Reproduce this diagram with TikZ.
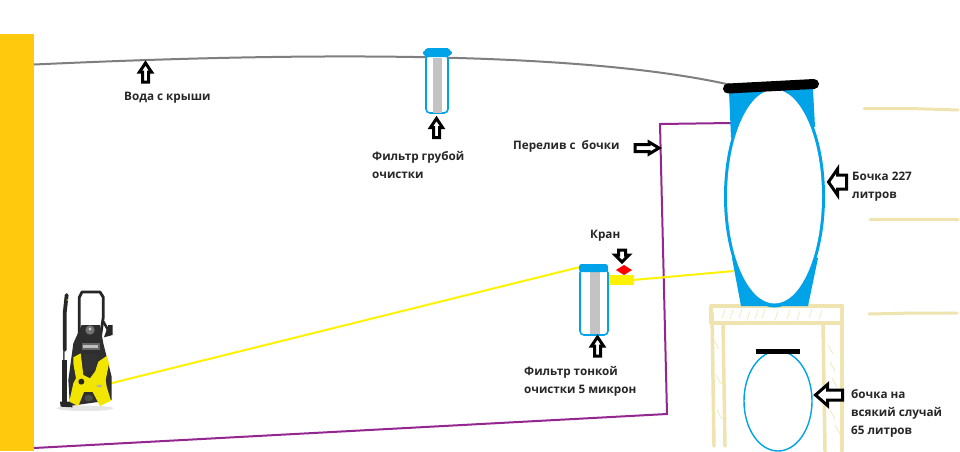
\documentclass[tikz,border=0pt]{standalone}
\usepackage{fontspec}
\setmainfont{Open Sans}
\usetikzlibrary{shapes.geometric}
\definecolor{wallc}{HTML}{FFC90E}
\definecolor{bluec}{HTML}{00A2E8}
\definecolor{woodc}{HTML}{EFE4B0}
\definecolor{purplec}{HTML}{93278F}
\definecolor{yelc}{HTML}{FFF200}
\definecolor{greyc}{HTML}{C3C3C3}
\definecolor{pipec}{HTML}{7F7F7F}
\tikzset{
  lbl/.style={font=\bfseries\fontsize{11.7}{18}\selectfont, text=black!85, align=left, anchor=north west, inner sep=0pt},
  outarrow/.style={draw=black, line width=3pt, fill=white, line join=miter},
  wood/.style={draw=woodc, line width=3.5pt, line cap=round},
  hatch/.style={draw=woodc, line width=.6pt},
  filterbody/.style={rectangle, draw=bluec, line width=1.6pt, rounded corners=4pt, fill=white, inner sep=0pt},
  filtercore/.style={rectangle, fill=greyc, inner sep=0pt},
  filtercap/.style={fill=bluec, rectangle, rounded corners=2.5pt, inner sep=0pt},
  pipe/.style={line width=2pt},
}
\newcommand{\arrowup}[2]{\draw[outarrow] (#1,#2) -- ++(6,9) -- ++(-3,0) -- ++(0,10) -- ++(-6,0) -- ++(0,-10) -- ++(-3,0) -- cycle;}
\newcommand{\arrowdown}[2]{\draw[outarrow] (#1,#2) -- ++(7,-7) -- ++(-3.5,0) -- ++(0,-5) -- ++(-7,0) -- ++(0,5) -- ++(-3.5,0) -- cycle;}
% tip x, tip y, head length, head half width, tail half width, tail length
\newcommand{\arrowleft}[6]{\draw[outarrow] (#1,#2) -- ++(#3,-#4) -- ++(0,#4-#5) -- ++(#6,0) -- ++(0,2*#5) -- ++(-#6,0) -- ++(0,#4-#5) -- cycle;}
\begin{document}
\begin{tikzpicture}[x=1pt,y=-1pt]
\useasboundingbox (0,0) rectangle (960,451);
\fill[white] (0,0) rectangle (960,451);
\fill[wallc] (0,34) rectangle (34,451);

% named anchors
\coordinate (wallTop) at (34,64.5);
\coordinate (lidLeft) at (731,85);
\coordinate (wallBot) at (34,448);
\coordinate (bendA) at (667,414);
\coordinate (bendB) at (660,124);
\coordinate (barrelOver) at (731,123);
\coordinate (pumpOut) at (100,386);
\coordinate (fineIn) at (580,267);
\coordinate (valveOut) at (633,280);
\coordinate (barrelOut) at (734,271);

% pipes
\draw[pipec,pipe] (wallTop) .. controls (200,57) and (550,44) .. (lidLeft);
\draw[purplec,pipe] (wallBot) -- (bendA) -- (bendB) -- (barrelOver);
\draw[yelc,pipe] (pumpOut) -- (fineIn);
\draw[yelc,pipe] (valveOut) -- (barrelOut);

% wooden stand
\draw[wood] (711,306) -- (842,306);
\draw[wood] (712,323) -- (842,323);
\draw[wood] (711,306) -- (711,323);
\draw[wood] (842,306) -- (842,451);
\draw[wood] (712,313) -- (714,446);
\draw[wood] (723,323) -- (725,446);
\draw[wood] (823,323) -- (825,451);
\foreach \xa/\ya in {725/309,733/310,742/309,750/311,758/310,765/309,778/311,790/310,800/311,812/309,822/310}
  \draw[hatch] (\xa,\ya) -- ++(-3,9);
\foreach \xa/\ya in {714/340,716/375,717/410,828/345,830/362,832/378,835/425,830/410}
  \draw[hatch] (\xa,\ya) -- ++(5,9);
\draw[woodc,line width=3pt,line cap=round] (864,108.5) -- (910,108.5) -- (958,110);
\draw[woodc,line width=3pt,line cap=round] (870,219) -- (958,219);
\draw[woodc,line width=3pt,line cap=round] (869,314) -- (915,313) -- (957,313);

% big barrel
\fill[bluec] (774.5,196.5) ellipse (50.5 and 111);
\fill[bluec] (729,91) -- (813,89) -- (815,127) -- (790,127) -- (760,138) -- (731,138) -- cycle;
\fill[bluec] (732,258) -- (760,258) -- (790,258) -- (818,258) -- (808,306) -- (741,306) -- cycle;
\node[ellipse, fill=white, minimum width=95pt, minimum height=214pt, inner sep=0pt] (barrel) at (774.5,196.5) {};
\draw[line width=10pt, line cap=round, black] (728,88.5) -- (814,84);

% small barrel
\node[ellipse, draw=bluec, line width=1.4pt, fill=white, minimum width=68pt, minimum height=100pt, inner sep=0pt] (smallbarrel) at (778,401) {};
\fill[black] (756,349) rectangle (800,354);

% coarse filter
\node[filterbody, minimum width=22pt, minimum height=58pt] (coarse) at (437,84) {};
\node[filtercore, minimum width=9pt, minimum height=55pt] (coarsecore) at (437.5,85) {};
\fill[bluec,rounded corners=1.5pt] (422,52.5) -- (426,50) -- (426,48) -- (449,48) -- (449,50) -- (453,52.5) -- (448,57) -- (426,57) -- cycle;

% fine filter
\node[filterbody, minimum width=28pt, minimum height=66pt] (fine) at (594,302) {};
\node[filtercore, minimum width=10pt, minimum height=62pt] (finecore) at (595,303) {};
\node[filtercap, minimum width=29pt, minimum height=8pt] (finecap) at (593.5,268) {};

% valve
\fill[yelc] (609,275) rectangle (634,285);
\fill[red] (624,265) -- (632,270) -- (624,275) -- (616,270) -- cycle;

% outlined arrows
\arrowup{145.5}{63}
\arrowup{436.5}{118.5}
\arrowup{597.5}{337}
\arrowdown{622}{262}
\arrowleft{828.5}{182}{9}{13}{7}{9}
\arrowleft{815.5}{395}{12}{10.5}{5}{15}
\draw[outarrow] (659,148) -- (649,142) -- (649,144.5) -- (635,144.5) -- (635,151.5) -- (649,151.5) -- (649,154) -- cycle;

% pressure washer
\begin{scope}[shift={(40,280)},x=.3333pt,y=-.3333pt]
  \fill[black!10] (135,385) ellipse (85 and 8);
  % handle
  \draw[black!85,line width=2.8pt,line join=round] (118,180) -- (118,52) -- (126,36) -- (180,36) -- (190,52) -- (190,110) -- (180,180);
  \draw[black!85,line width=2.5pt] (190,125) -- (210,160);
  \fill[black!85] (205,135) -- (218,135) -- (218,165) -- (192,172) -- cycle;
  % wand
  \draw[black!85,line width=3.8pt,line cap=round] (80,45) -- (74,100) -- (74,210);
  \draw[black!70,line width=1.5pt] (72,210) -- (70,365);
  \fill[black!85] (66,240) rectangle (80,365);
  \fill[black!85] (60,365) -- (90,365) -- (98,382) -- (62,380) -- cycle;
  \fill[yelc!70!black] (82,60) circle (3);
  % body
  \fill[black!82] (125,135) -- (180,135) -- (190,190) -- (215,290) -- (215,360) -- (90,378) -- (85,300) -- (100,190) -- cycle;
  \fill[black!55] (150,150) circle (14);
  \fill[black!20] (150,147) circle (5);
  \fill[black!60] (125,190) rectangle (180,210);
  \fill[white!75!black] (130,195) rectangle (175,204);
  % yellow X
  \fill[yelc!95!black] (100,232) -- (122,220) -- (130,285) -- (150,295) -- (165,275) -- (175,245) -- (200,228) -- (207,250) -- (197,300) -- (200,320) -- (213,362) -- (180,378) -- (158,336) -- (132,336) -- (115,378) -- (88,365) -- (100,310) -- (108,295) -- (100,250) -- cycle;
  \fill[black!80] (130,222) -- (172,222) -- (166,272) -- (134,272) -- cycle;
  \fill[black!85] (124,305) circle (9);
  \fill[black!70] (146,354) ellipse (13 and 10);
  \fill[black!30] (178,318) ellipse (9 and 4);
\end{scope}

% labels
\node[lbl] (t1) at (124,91.5) {Вода с крыши};
\node[lbl] (t2) at (372,151) {Фильтр грубой\\очистки};
\node[lbl] (t3) at (513,140) {Перелив с\ \ бочки};
\node[lbl] (t4) at (590,230) {Кран};
\node[lbl] (t5) at (524,366.5) {Фильтр тонкой\\очистки 5 микрон};
\node[lbl] (t6) at (852,171.5) {Бочка 227\\литров};
\node[lbl] (t7) at (851,389) {бочка на\\всякий случай\\65 литров};
\end{tikzpicture}
\end{document}
